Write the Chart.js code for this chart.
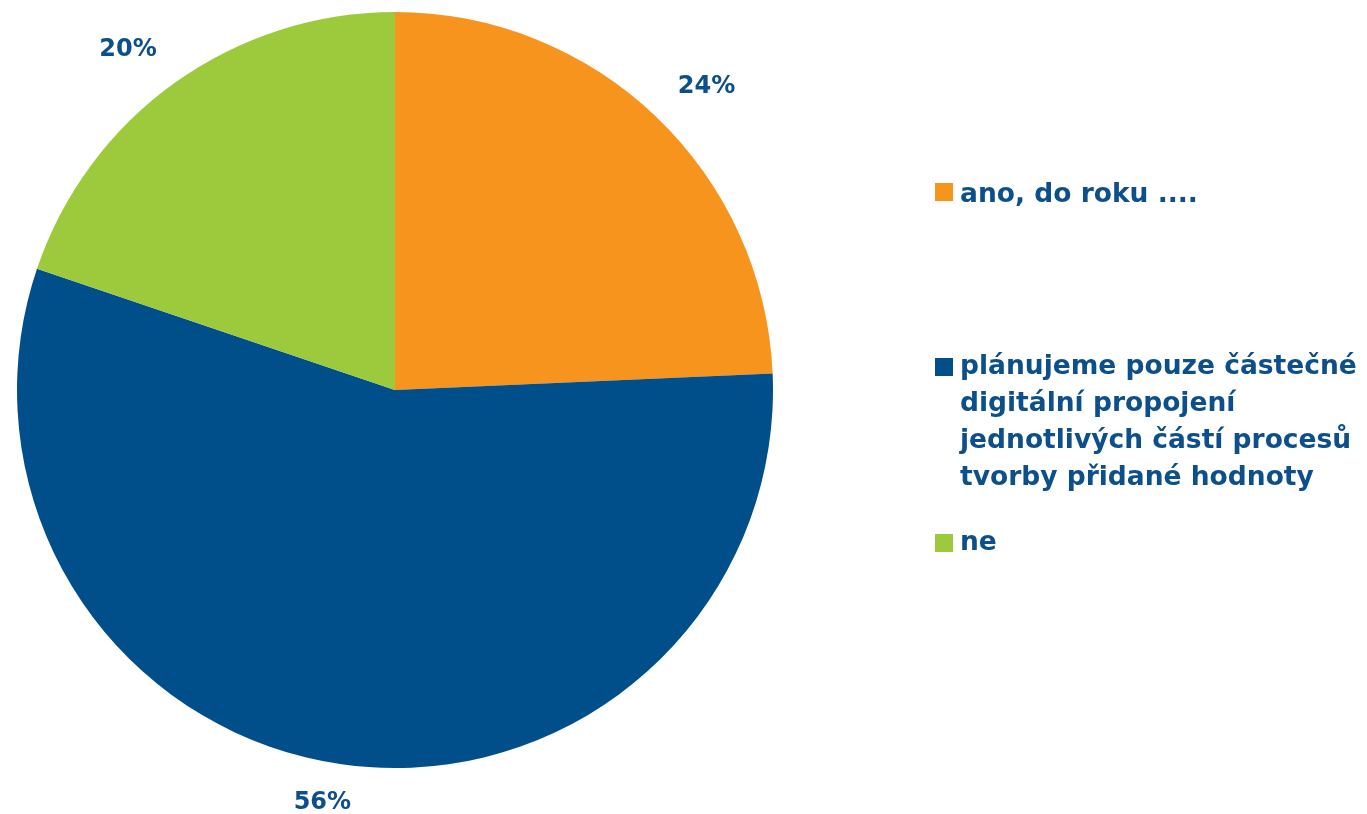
<!DOCTYPE html>
<html><head><meta charset="utf-8">
<script src="https://cdn.jsdelivr.net/npm/chart.js@4"></script>
<style>
html,body{margin:0;padding:0;background:#fff;width:1367px;height:814px;overflow:hidden;}
#wrap{position:relative;width:1367px;height:814px;}
canvas{position:absolute;left:0;top:0;}
.sw{position:absolute;left:935px;width:18px;height:18px;}
.txt{position:absolute;left:960px;white-space:nowrap;font-family:"DejaVu Sans",sans-serif;font-weight:bold;font-size:26.5px;line-height:37px;color:#0d4f8b;}
</style></head>
<body><div id="wrap"><canvas id="c" width="1367" height="814"></canvas></div>
<script>
const categories = ["ano, do roku ....", "plánujeme pouze částečné digitální propojení jednotlivých částí procesů tvorby přidané hodnoty", "ne"];
const legendLines = [["ano, do roku ...."], ["plánujeme pouze částečné", "digitální propojení", "jednotlivých částí procesů", "tvorby přidané hodnoty"], ["ne"]];
const values = [24.3, 55.9, 19.8];
const colors = ["#f7941d", "#004f8b", "#9dca3c"];
const valueLabels = ["24%", "56%", "20%"];

const clamp = v => Math.max(-1, Math.min(1, v));
const labelPlugin = {
  id: 'outLabels',
  afterDatasetsDraw(chart) {
    const ctx = chart.ctx;
    const meta = chart.getDatasetMeta(0);
    ctx.save();
    ctx.font = 'bold 24px "DejaVu Sans",sans-serif';
    ctx.fillStyle = '#0d4f8b';
    ctx.textAlign = 'center';
    ctx.textBaseline = 'middle';
    meta.data.forEach((arc, i) => {
      const p = arc.getProps(['x','y','startAngle','endAngle','outerRadius'], true);
      const mid = (p.startAngle + p.endAngle) / 2;
      const ux = Math.cos(mid), uy = Math.sin(mid);
      const w = ctx.measureText(valueLabels[i]).width;
      const h = 16;
      const d = p.outerRadius + 31;
      const cx = p.x + ux * d + clamp(ux * 3.7) * w / 2;
      const cy = p.y + uy * d + clamp(uy * 3.7) * h / 2;
      ctx.fillText(valueLabels[i], cx, cy);
    });
    ctx.restore();
  }
};

new Chart(document.getElementById('c'), {
  type: 'pie',
  data: { labels: categories, datasets: [{ data: values, backgroundColor: colors, borderWidth: 0 }] },
  options: {
    responsive: false, animation: false, devicePixelRatio: 1,
    layout: { padding: { left: 17, right: 594, top: 12, bottom: 46 } },
    plugins: { legend: { display: false }, tooltip: { enabled: false } }
  },
  plugins: [labelPlugin]
});

const swTops = [183, 358, 534];
const txTops = [174, 346, 522];
const wrap = document.getElementById('wrap');
legendLines.forEach((lines, i) => {
  const sw = document.createElement('div');
  sw.className = 'sw'; sw.style.background = colors[i]; sw.style.top = swTops[i] + 'px';
  const tx = document.createElement('div');
  tx.className = 'txt'; tx.style.top = txTops[i] + 'px';
  lines.forEach((l, j) => {
    if (j) tx.appendChild(document.createElement('br'));
    tx.appendChild(document.createTextNode(l));
  });
  wrap.appendChild(sw); wrap.appendChild(tx);
});
</script></body></html>
